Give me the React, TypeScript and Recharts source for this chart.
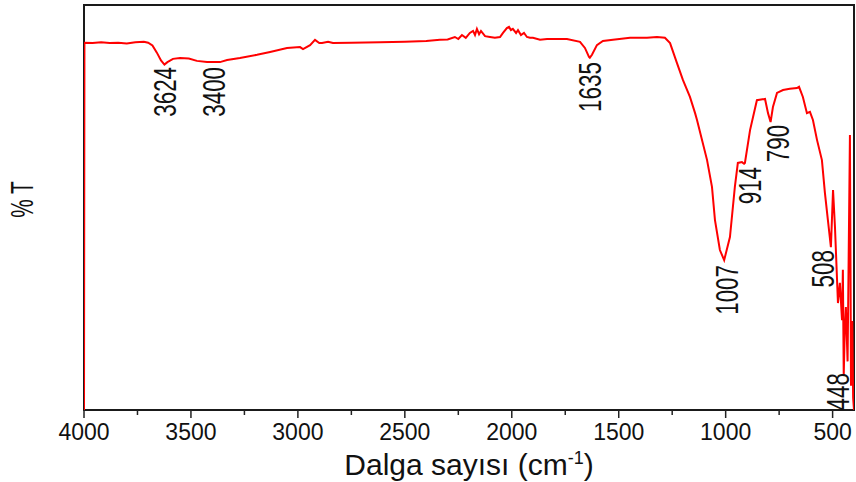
import { LineChart, Line, XAxis, YAxis, ReferenceArea, ReferenceDot } from 'recharts';

// wavenumber (cm-1), high to low
const wavenumbers = [
  4000, 3998, 3960, 3920, 3880, 3840, 3800, 3760, 3720, 3700, 3680, 3660, 3640, 3624, 3610,
  3584, 3551, 3510, 3472, 3425, 3390, 3364, 3331, 3271, 3191, 3130, 3051, 2990, 2976, 2943,
  2920, 2900, 2887, 2859, 2836, 2750, 2616, 2500, 2400, 2336, 2300, 2266, 2250, 2233, 2215,
  2196, 2181, 2172, 2163, 2153, 2144, 2125, 2102, 2079, 2055, 2041, 2023, 2013, 2004, 1995,
  1980, 1971, 1957, 1943, 1929, 1915, 1901, 1868, 1835, 1742, 1681, 1658, 1639, 1635, 1625,
  1602, 1574, 1527, 1447, 1368, 1321, 1284, 1260, 1228, 1200, 1167, 1143, 1134, 1087, 1064,
  1050, 1027, 1007, 980, 957, 943, 924, 914, 910, 886, 854, 816, 802, 790, 779,
  760, 732, 700, 667, 657, 639, 620, 606, 592, 573, 550, 536, 522, 508, 498,
  489, 475, 466, 456, 452, 448, 443, 438, 430, 419, 414, 408, 404, 400,
];

// % transmittance at each wavenumber
const transmittance = [
  0, 90.7, 90.6, 90.8, 90.6, 90.7, 90.5, 90.8, 90.9, 90.7, 90.0, 88.3, 86.3, 85.3, 85.9,
  86.7, 86.9, 86.8, 86.2, 85.9, 85.9, 85.9, 86.4, 86.9, 87.7, 88.4, 89.4, 89.6, 89.1, 90.1,
  91.4, 90.6, 90.6, 90.9, 90.6, 90.7, 90.8, 90.9, 91.1, 91.4, 91.5, 92.1, 91.6, 92.6, 91.9,
  93.1, 93.6, 92.6, 94.1, 92.8, 93.6, 92.3, 92.1, 91.9, 92.1, 93.1, 94.3, 94.6, 93.8, 94.1,
  93.1, 93.8, 92.6, 93.1, 92.1, 91.9, 91.9, 91.4, 91.6, 91.6, 90.9, 89.4, 87.2, 87.0, 87.7,
  90.1, 91.1, 91.4, 91.9, 91.9, 92.1, 91.9, 90.6, 85.7, 81.5, 77.3, 73.3, 71.6, 61.7, 55.1,
  46.9, 39.5, 37.0, 42.7, 55.1, 61.0, 61.2, 60.8, 61.0, 69.1, 76.5, 76.8, 73.3, 71.1, 74.8,
  78.3, 79.0, 79.3, 79.5, 79.8, 77.3, 73.3, 73.6, 71.6, 66.7, 61.7, 53.6, 46.9, 40.2, 54.3,
  45.2, 26.4, 31.4, 22.2, 34.6, 8.6, 20.0, 25.4, 12.0, 67.9, 6.0, 22.0, 3.0, 0,
];

// peak labels: text, wavenumber where the label sits, %T of its top end
const peakLabels = ['3624', '3400', '1635', '1007', '914', '790', '508', '448'];
const peakLabelX = [3624, 3392, 1635, 994, 886, 756, 545, 475];
const peakLabelTop = [84.7, 84.7, 85.9, 35.8, 60.0, 70.4, 39.5, 9.1];

const xTicks = [4000, 3750, 3500, 3250, 3000, 2750, 2500, 2250, 2000, 1750, 1500, 1250, 1000, 750, 500];

const data = wavenumbers.map((wn, i) => ({ wn, t: transmittance[i] }));

const FONT = '"Liberation Sans", Arial, sans-serif';

function XTick(props: any) {
  const { x, y, payload } = props;
  const major = payload.value % 500 === 0;
  return (
    <g>
      <line x1={x} x2={x} y1={y} y2={y + (major ? 8 : 5)} stroke="#222" strokeWidth={1.5} />
      {major && (
        <text x={x} y={y + 30} textAnchor="middle" fontSize={23} fontFamily={FONT} fill="#111">
          {payload.value}
        </text>
      )}
    </g>
  );
}

function PeakText(text: string) {
  return (props: any) => {
    const { cx, cy } = props;
    return (
      <text
        transform={`translate(${cx},${cy}) rotate(-90) scale(0.7,1)`}
        textAnchor="end"
        dy="0.35em"
        fontSize={32}
        fontFamily={FONT}
        fill="#111"
      >
        {text}
      </text>
    );
  };
}

export default function App() {
  return (
    <div style={{ position: 'absolute', left: 0, top: 0, background: '#fff' }}>
      <LineChart width={856} height={482} data={data} margin={{ top: 5, right: 2, left: 0, bottom: 0 }}>
        <XAxis
          dataKey="wn"
          type="number"
          domain={[400, 4000]}
          reversed
          allowDataOverflow
          ticks={xTicks}
          interval={0}
          height={72}
          axisLine={false}
          tickLine={false}
          tickSize={0}
          tickMargin={0}
          tick={<XTick />}
          label={{
            content: (p: any) => {
              const vb = p.viewBox;
              return (
                <text x={vb.x + vb.width / 2} y={vb.y + 65} textAnchor="middle" fontSize={30} fontFamily={FONT} fill="#111">
                  Dalga sayısı (cm
                  <tspan dy={-11} fontSize={18}>-1</tspan>
                  <tspan dy={11}>)</tspan>
                </text>
              );
            },
          }}
        />
        <YAxis
          type="number"
          domain={[0, 100]}
          width={84}
          tick={false}
          axisLine={false}
          tickLine={false}
          label={{
            content: (p: any) => {
              const vb = p.viewBox;
              return (
                <text
                  transform={`translate(22,${vb.y + vb.height / 2 - 8}) rotate(-90) scale(0.65,1)`}
                  textAnchor="middle"
                  dy="0.35em"
                  fontSize={32}
                  fontFamily={FONT}
                  fill="#111"
                >
                  % T
                </text>
              );
            },
          }}
        />
        <ReferenceArea x1={4000} x2={400} y1={0} y2={100} fill="none" stroke="#1a1a1a" strokeWidth={2} />
        <Line
          type="linear"
          dataKey="t"
          stroke="#ff0000"
          strokeWidth={2}
          dot={false}
          isAnimationActive={false}
        />
        {peakLabels.map((label, i) => (
          <ReferenceDot key={label} x={peakLabelX[i]} y={peakLabelTop[i]} r={1} shape={PeakText(label)} />
        ))}
      </LineChart>
    </div>
  );
}
